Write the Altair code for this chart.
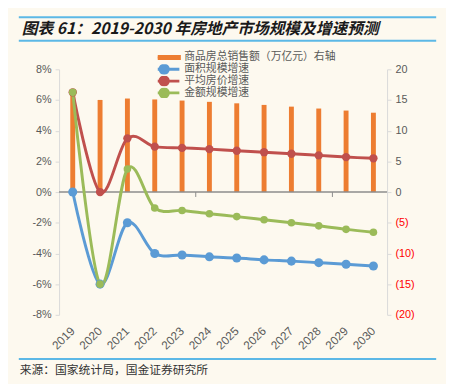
import altair as alt
import pandas as pd

years = [str(y) for y in range(2019, 2031)]
sales = [15.97, 15.01, 15.24, 15.09, 14.91, 14.70, 14.46, 14.20, 13.92, 13.61, 13.28, 12.93]
area_growth = [0.0, -6.0, -2.0, -4.0, -4.1, -4.22, -4.3, -4.42, -4.5, -4.6, -4.7, -4.82]
price_growth = [6.5, 0.0, 3.5, 2.96, 2.88, 2.8, 2.69, 2.6, 2.5, 2.39, 2.28, 2.2]
amount_growth = [6.5, -6.0, 1.5, -1.04, -1.2, -1.41, -1.6, -1.8, -2.0, -2.2, -2.43, -2.62]

bar_name = "商品房总销售额（万亿元）右轴"
line_names = ["面积规模增速", "平均房价增速", "金额规模增速"]
line_colors = ["#5B9BD5", "#C0504D", "#9BBB59"]
bar_color = "#ED7D31"
dot_sizes = [85, 60, 60]

# category-axis tick marks on the zero line (every 5 categories)
tick_years = ["2024", "2029"]

title_text = "图表 61：2019-2030 年房地产市场规模及增速预测"
source_text = "来源：国家统计局，国金证券研究所"

left_ticks = list(range(-8, 9, 2))
right_ticks = list(range(-20, 21, 5))

bar_df = pd.DataFrame({"year": years, "sales": sales})
rows = []
for name, vals in zip(line_names, [area_growth, price_growth, amount_growth]):
    for y, v in zip(years, vals):
        rows.append({"year": y, "series": name, "value": v})
line_df = pd.DataFrame(rows)

FONT = "Liberation Sans"
CJK = "Noto Sans CJK SC"
GRAY = "#595959"
AXIS_GRAY = "#d9d9d9"
ZERO_GRAY = "#8c8c8c"

x_enc = alt.X(
    "year:N",
    scale=alt.Scale(domain=years, paddingInner=0, paddingOuter=0),
    axis=alt.Axis(
        title=None, labelAngle=-45, labelAlign="right", labelBaseline="middle",
        domain=False, ticks=False, labelPadding=14, labelFont=FONT,
        labelFontSize=12, labelColor=GRAY,
    ),
)

bars = alt.Chart(bar_df).mark_bar(size=5, color=bar_color).encode(
    x=x_enc,
    y=alt.Y(
        "sales:Q",
        scale=alt.Scale(domain=[-20, 20], nice=False, zero=False),
        axis=alt.Axis(
            orient="right", title=None, values=right_ticks, grid=False,
            domainColor=AXIS_GRAY, tickColor=AXIS_GRAY, tickSize=4,
            labelPadding=4, labelFont=FONT, labelFontSize=11,
            labelColor={"condition": {"test": "datum.value < 0", "value": "#ff0000"}, "value": GRAY},
            labelExpr="datum.value < 0 ? '(' + abs(datum.value) + ')' : datum.value",
        ),
    ),
)

y_left = alt.Y(
    "value:Q",
    scale=alt.Scale(domain=[-8, 8], nice=False, zero=False),
    axis=alt.Axis(
        orient="left", title=None, values=left_ticks, grid=False,
        domainColor=AXIS_GRAY, tickColor=AXIS_GRAY, tickSize=4,
        labelPadding=4, labelFont=FONT, labelFontSize=11, labelColor=GRAY,
        labelExpr="datum.value + '%'",
    ),
)

color_enc = alt.Color("series:N", scale=alt.Scale(domain=line_names, range=line_colors), legend=None)

zero_rule = alt.Chart(pd.DataFrame({"value": [0]})).mark_rule(color=ZERO_GRAY, strokeWidth=1.5).encode(
    y=y_left
)
zero_ticks = alt.Chart(pd.DataFrame({"year": tick_years, "value": [0] * len(tick_years)})).mark_rule(
    color=ZERO_GRAY, strokeWidth=1, y2Offset=5
).encode(
    x=alt.X("year:N", bandPosition=0, scale=alt.Scale(domain=years, paddingInner=0, paddingOuter=0)),
    y=y_left,
    y2=alt.Y2("value:Q"),
)

lines = alt.Chart(line_df).mark_line(strokeWidth=3, interpolate="cardinal").encode(
    x=x_enc, y=y_left, color=color_enc,
    order=alt.Order("year:N"),
)
points = alt.Chart(line_df).mark_point(filled=True, opacity=1).encode(
    x=x_enc, y=y_left, color=color_enc,
    size=alt.Size("series:N", scale=alt.Scale(domain=line_names, range=dot_sizes), legend=None),
)

left_layer = alt.layer(zero_rule, zero_ticks, lines, points)

# legend
leg_names = [bar_name] + line_names
leg_colors = [bar_color] + line_colors
rect_path = "M-3.1,-0.2H3.1V0.2H-3.1Z"
dot_path = "M-3.1,0H3.1M0.85,0A0.85,0.85 0 1,1 -0.85,0A0.85,0.85 0 1,1 0.85,0Z"
leg_shapes = [rect_path, dot_path, dot_path, dot_path]
leg = alt.Legend(
    title=None, orient="none", legendX=100.5, legendY=-17.25, symbolSize=100,
    labelFont=CJK, labelFontSize=11, labelColor=GRAY, labelOffset=14,
    clipHeight=10.5, rowPadding=0, symbolOpacity=1, symbolStrokeWidth=3, padding=0,
)
legend_layer = alt.Chart(pd.DataFrame({"name": leg_names})).mark_point(
    filled=True, opacity=0, strokeWidth=3
).encode(
    fill=alt.Fill("name:N", scale=alt.Scale(domain=leg_names, range=leg_colors), legend=leg),
    stroke=alt.Stroke("name:N", scale=alt.Scale(domain=leg_names, range=leg_colors), legend=leg),
    shape=alt.Shape("name:N", scale=alt.Scale(domain=leg_names, range=leg_shapes), legend=leg),
)

one = pd.DataFrame({"k": [0]})
blue_line = "#5cb8e6"
rule_top = alt.Chart(one).mark_rule(color=blue_line, strokeWidth=2).encode(
    x=alt.value(-41), x2=alt.value(384), y=alt.value(-53))
rule_mid = alt.Chart(one).mark_rule(color=blue_line, strokeWidth=2).encode(
    x=alt.value(-41), x2=alt.value(384), y=alt.value(-29))
rule_bot = alt.Chart(one).mark_rule(color=blue_line, strokeWidth=2).encode(
    x=alt.value(-41), x2=alt.value(384), y=alt.value(295))
title_mark = alt.Chart(one).mark_text(
    font=CJK, fontSize=16, fontWeight="bold", fontStyle="italic", color="#1a1a1a",
    align="left", baseline="middle",
).encode(x=alt.value(-38), y=alt.value(-41), text=alt.value(title_text))
source_mark = alt.Chart(one).mark_text(
    font=CJK, fontSize=12, color="#333333", align="left", baseline="middle",
).encode(x=alt.value(-40), y=alt.value(306), text=alt.value(source_text))

chart = alt.layer(
    bars, left_layer, legend_layer, rule_top, rule_mid, rule_bot, title_mark, source_mark
).resolve_scale(y="independent").properties(
    width=334, height=250,
    autosize=alt.AutoSizeParams(type="none"),
    padding={"left": 52, "top": 59, "right": 60, "bottom": 67},
    background="#fdf9ef",
).configure_view(stroke=None)

chart.save("out.html", embed_options={"renderer": "svg", "actions": False})
